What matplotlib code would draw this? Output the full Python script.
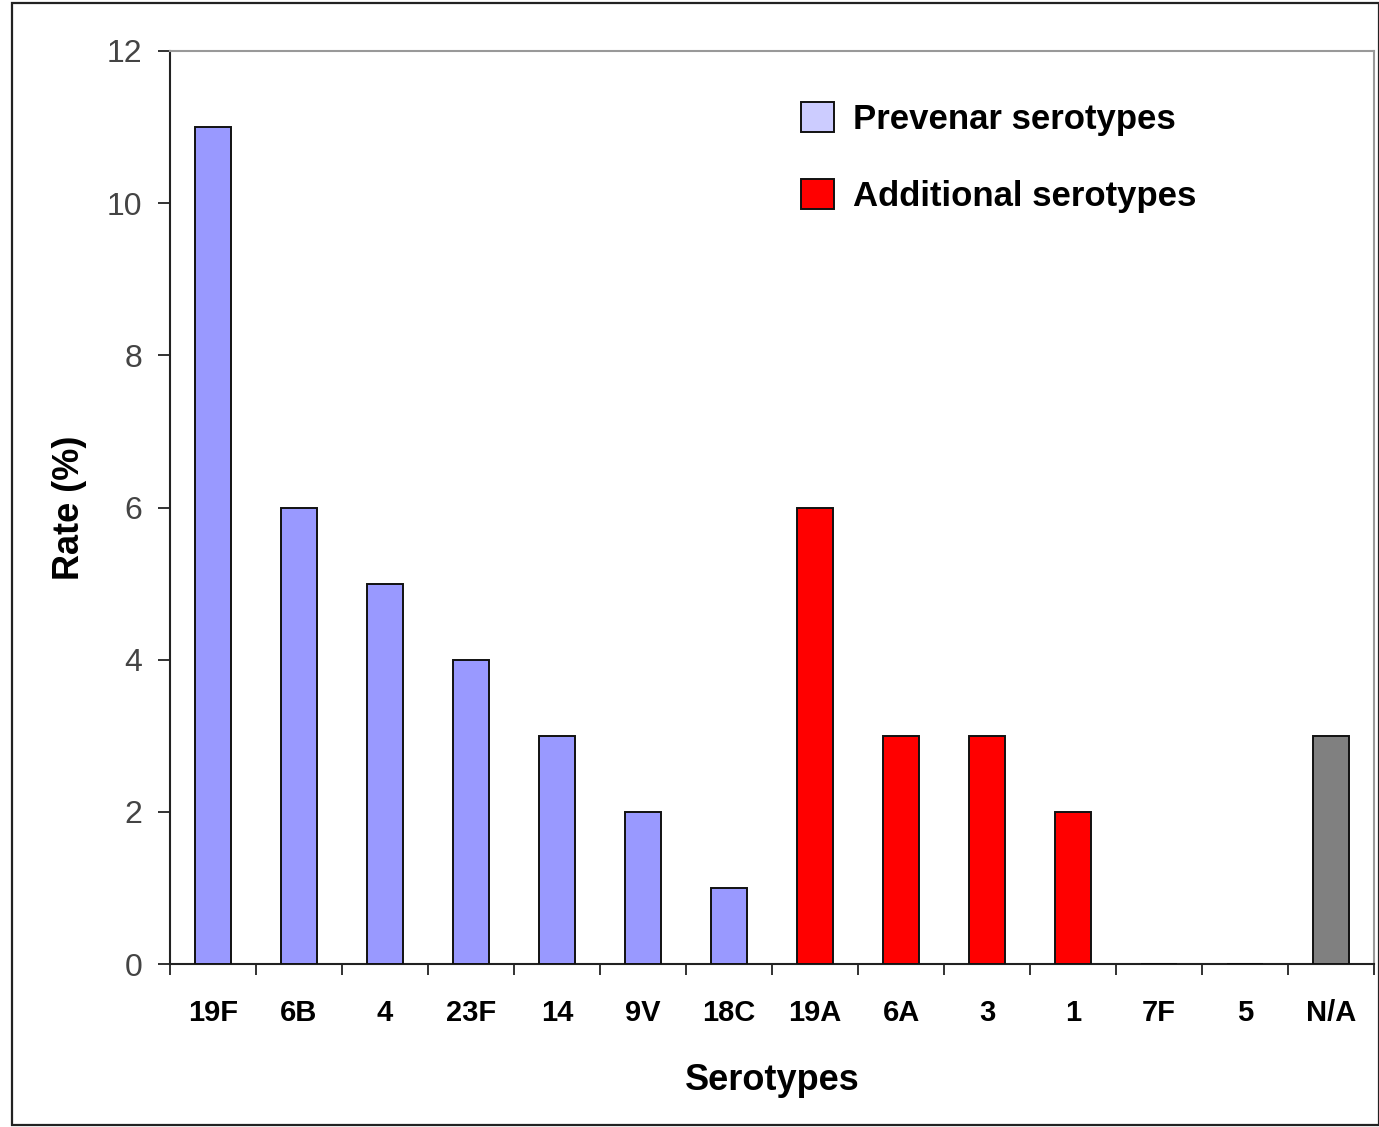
import numpy as np
import matplotlib.pyplot as plt
from matplotlib.patches import Patch, Rectangle

# serotypes and rates (%)
serotypes = ['19F', '6B', '4', '23F', '14', '9V', '18C', '19A', '6A', '3', '1', '7F', '5', 'N/A']
rates = [11, 6, 5, 4, 3, 2, 1, 6, 3, 3, 2, 0, 0, 3]
groups = ['prev'] * 7 + ['add'] * 6 + ['na']

group_colors = {'prev': '#9999FF', 'add': '#FF0000', 'na': '#808080'}
legend_labels = ['Prevenar serotypes', 'Additional serotypes']
legend_colors = ['#CCCCFF', '#FF0000']

plt.rcParams['font.family'] = ['Liberation Sans', 'DejaVu Sans']

fig = plt.figure(figsize=(13.79, 11.27), dpi=100)
ax = fig.add_axes([170 / 1379, 1 - 964 / 1127, 1204 / 1379, 913 / 1127])

# outer frame like the original picture
fig.patches.append(Rectangle((12 / 1379, 2 / 1127), 1 - 12 / 1379, 1 - 5 / 1127,
                             transform=fig.transFigure, fill=False,
                             edgecolor='#222222', linewidth=1.6))

x = np.arange(len(serotypes))
colors = [group_colors[g] for g in groups]
ax.bar(x, rates, width=0.41, color=colors, edgecolor='#111111', linewidth=1.4, zorder=3)

ax.set_xlim(-0.5, len(serotypes) - 0.5)
ax.set_ylim(0, 12)

# ticks between categories, labels at centres
ax.set_xticks(np.arange(len(serotypes) + 1) - 0.5)
ax.set_xticklabels([])
ax.set_xticks(x, minor=True)
ax.set_xticklabels(serotypes, minor=True, fontsize=21, fontweight='bold')
ax.tick_params(axis='x', which='major', length=8, width=1.3, direction='out', color='#222222')
ax.tick_params(axis='x', which='minor', length=0, pad=25)

ax.set_yticks(np.arange(0, 13, 2))
ax.tick_params(axis='y', length=9, width=1.3, direction='out', color='#222222',
               labelsize=23, labelcolor='#444444', pad=11)

for s in ['left', 'bottom']:
    ax.spines[s].set_color('#222222')
    ax.spines[s].set_linewidth(1.5)
for s in ['top', 'right']:
    ax.spines[s].set_color('#999999')
    ax.spines[s].set_linewidth(1.5)

ax.set_ylabel('Rate (%)', fontsize=26, fontweight='bold', labelpad=14)
ax.set_xlabel('Serotypes', fontsize=26, fontweight='bold', labelpad=26)

handles = [Patch(facecolor=c, edgecolor='#111111', linewidth=1.4) for c in legend_colors]
ax.legend(handles, legend_labels, loc='upper left', bbox_to_anchor=(0.498, 0.978),
          frameon=False, prop={'size': 25, 'weight': 'bold'},
          handlelength=0.95, handleheight=0.95, handletextpad=0.55, labelspacing=1.23)

fig.savefig('out.png', dpi=100)
